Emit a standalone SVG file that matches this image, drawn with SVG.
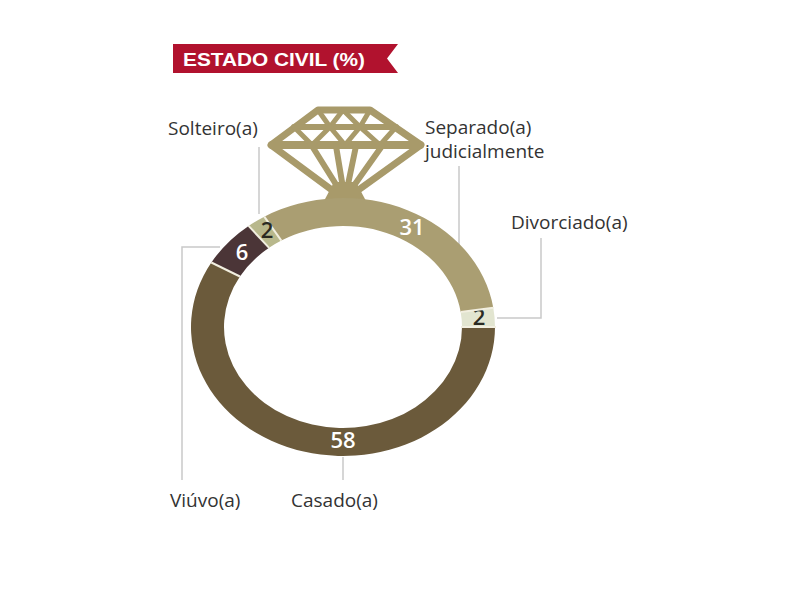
<svg xmlns="http://www.w3.org/2000/svg" width="800" height="600" viewBox="0 0 800 600">
  <style>
    .lbl { font-family: "Open Sans", "Liberation Sans", sans-serif; font-size: 19px; fill: #333333; }
    .num { font-family: "Open Sans", "Liberation Sans", sans-serif; font-size: 22px; font-weight: 600; text-anchor: middle; }
    .lead { fill: none; stroke: #c9c9c9; stroke-width: 1.5; }
    .div { stroke: #f2efe0; stroke-width: 2; }
    .dia { fill: none; stroke: #a89a6a; stroke-linejoin: round; stroke-linecap: round; }
  </style>
  <rect width="800" height="600" fill="#ffffff"/>

  <g id="title">
    <polygon points="173,44 398,44 387,58.5 398,73 173,73" fill="#b1122e"/>
    <text x="183" y="66" font-family="Liberation Sans, Arial, sans-serif" font-size="19" font-weight="bold" fill="#ffffff" textLength="182" lengthAdjust="spacingAndGlyphs">ESTADO CIVIL (%)</text>
  </g>

  <g id="diamond">
    <polygon points="318,110 370,110 421,145 350,196 340,196 271,145" fill="#ffffff" class="dia" stroke-width="7"/>
    <line x1="272" y1="145" x2="420" y2="145" class="dia" stroke-width="8"/>
    <line x1="294" y1="127" x2="396" y2="127" class="dia" stroke-width="6"/>
    <polyline points="318,110 330,127 343,110 360,127 370,110" class="dia" stroke-width="5"/>
    <polyline points="294,127 312,145 330,127 345,145 360,127 380,145 396,127" class="dia" stroke-width="5"/>
    <line x1="312" y1="146" x2="342" y2="194" class="dia" stroke-width="6"/>
    <line x1="336" y1="146" x2="344" y2="194" class="dia" stroke-width="6"/>
    <line x1="356" y1="146" x2="346" y2="194" class="dia" stroke-width="6"/>
    <line x1="382" y1="146" x2="348" y2="194" class="dia" stroke-width="6"/>
    <polygon points="334,182 356,182 366,201 324,201" fill="#a89a6a"/>
  </g>

  <g id="connectors">
    <line x1="259" y1="147" x2="259" y2="214" class="lead"/>
    <line x1="459" y1="166" x2="459" y2="247" class="lead"/>
    <polyline points="541,238 541,318 497,318" class="lead"/>
    <polyline points="182,480 182,247 220,247" class="lead"/>
    <line x1="343" y1="457" x2="343" y2="480" class="lead"/>
  </g>

  <g id="casado">
    <path d="M495,327 A152,129 0 1 1 211.36,262.5 L239.94,276.5 A119,101 0 1 0 462,327 Z" fill="#6b5a3b"/>
    <text x="343" y="448" class="num" fill="#ffffff">58</text>
  </g>
  <g id="viuvo">
    <path d="M211.36,262.5 A152,129 0 0 1 248.59,225.9 L269.09,247.85 A119,101 0 0 0 239.94,276.5 Z" fill="#4b3537"/>
    <text x="242" y="260" class="num" fill="#ffffff">6</text>
  </g>
  <g id="separado">
    <path d="M264.26,216.65 A152,129 0 0 1 493.29,307.71 L460.66,311.9 A119,101 0 0 0 281.36,240.6 Z" fill="#aa9e72"/>
    <text x="412" y="235" class="num" fill="#ffffff">31</text>
  </g>
  <g id="divorciado">
    <path d="M493.29,307.71 A152,129 0 0 1 495,327 L462,327 A119,101 0 0 0 460.66,311.9 Z" fill="#e2e5d0"/>
    <text x="479" y="325" class="num" fill="#2a2a22" font-size="18">2</text>
  </g>

  <g id="dividers">
    <line x1="211.36" y1="262.5" x2="239.94" y2="276.5" class="div"/>
    <line x1="493.29" y1="307.71" x2="460.66" y2="311.9" class="div"/>
    <line x1="496" y1="327" x2="461" y2="327" class="div"/>
  </g>

  <g id="solteiro">
    <path d="M248.59,225.9 A152,129 0 0 1 264.26,216.65 L281.36,240.6 A119,101 0 0 0 269.09,247.85 Z" fill="#b8b88c"/>
    <line x1="248.59" y1="225.9" x2="269.09" y2="247.85" class="div"/>
    <line x1="264.26" y1="216.65" x2="281.36" y2="240.6" class="div"/>
    <text x="267" y="238" class="num" fill="#2a2a22" font-size="18">2</text>
  </g>

  <g id="labels">
    <text x="168" y="135" class="lbl">Solteiro(a)</text>
    <text x="425" y="134" class="lbl">Separado(a)</text>
    <text x="425" y="158" class="lbl">judicialmente</text>
    <text x="511" y="229" class="lbl">Divorciado(a)</text>
    <text x="170" y="507" class="lbl">Viúvo(a)</text>
    <text x="291" y="507" class="lbl">Casado(a)</text>
  </g>
</svg>
